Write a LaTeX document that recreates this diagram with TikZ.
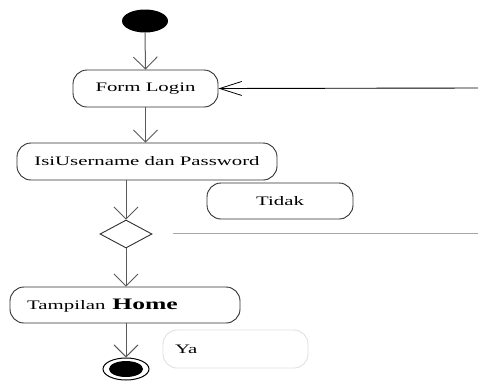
\documentclass[tikz,border=0pt]{standalone}
\usepackage{fontspec}
\usetikzlibrary{arrows.meta,shapes.geometric}
\newfontfamily\labfont[FakeStretch=1.6]{Liberation Serif}
\definecolor{conn}{HTML}{5A5A5A}
\definecolor{rim}{HTML}{303030}
\begin{document}
\begin{tikzpicture}[x=1pt,y=-1pt,
  actbox/.style={draw=rim,line width=0.9pt,rounded corners=14pt,inner sep=0pt,
    font=\labfont\fontsize{13}{15}\selectfont},
  flow/.style={draw=conn,line width=1pt,-{Straight Barb[length=12pt,width=24pt,line width=0.9pt]}},
  back/.style={draw=black,line width=0.9pt,-{Straight Barb[length=22pt,width=14pt,line width=0.8pt]}},
  txt/.style={inner sep=0pt,font=\labfont\fontsize{13}{15}\selectfont}]
\useasboundingbox (0,0) rectangle (478,381);

% start and end points
\node[ellipse,fill=black,minimum width=46pt,minimum height=23pt,inner sep=0pt] (start) at (145,21) {};
\node[ellipse,draw=black,line width=1pt,minimum width=46pt,minimum height=22pt,inner sep=0pt] (stop) at (126,369) {};
\node[ellipse,fill=black,minimum width=34pt,minimum height=16pt,inner sep=0pt] (stopdot) at (126,369) {};

% activities
\node[actbox,minimum width=145pt,minimum height=37pt] (login) at (145.5,88.5) {Form Login};
\node[actbox,minimum width=260pt,minimum height=37pt] (isi) at (147,161.5) {IsiUsername dan Password};
\node[actbox,minimum width=146pt,minimum height=36pt] (tidak) at (280,201) {Tidak};
\node[actbox,minimum width=230pt,minimum height=36pt] (home) at (125,305) {};
\node[txt,anchor=base west] (hometxt) at (27,309) {Tampilan\hspace{7pt}{\fontsize{16}{18}\selectfont\bfseries Home}};
\node[actbox,draw=black!12,minimum width=145pt,minimum height=38pt] (ya) at (235.5,349) {};
\node[txt,anchor=base west] (yatxt) at (175,353) {Ya};

% decision
\node[diamond,draw=rim,line width=0.9pt,shape aspect=1.86,minimum width=52pt,minimum height=28pt,inner sep=0pt] (dec) at (126,234) {};

% free ends
\coordinate (backin) at (478,88);
\coordinate (gs) at (173,233);
\coordinate (ge) at (478,233);

% connectors
\draw[flow] (start.south) -- (login.north);
\draw[back] (backin) -- (login.east);
\draw[flow] (login.south) -- (login.south |- isi.north);
\draw[flow] (isi.south -| dec.north) -- (dec.north);
\draw[flow] (dec.south) -- (dec.south |- home.north);
\draw[flow] (home.south -| stop.north) -- (stop.north);
\draw[draw=black!35,line width=0.8pt] (gs) -- (ge);
\end{tikzpicture}
\end{document}
